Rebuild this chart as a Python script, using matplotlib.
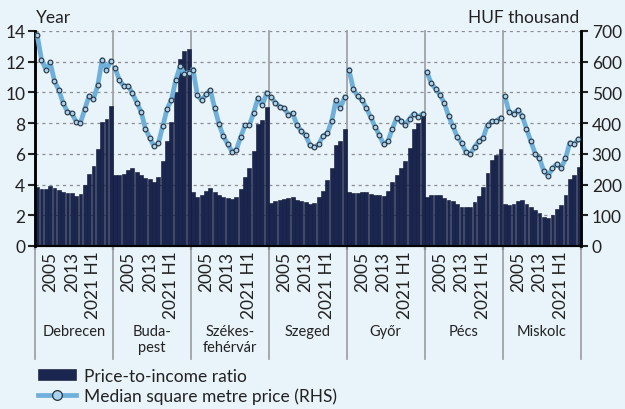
import matplotlib.pyplot as plt
import numpy as np
from matplotlib.lines import Line2D
from matplotlib.patches import Patch

plt.rcParams['font.family'] = ['Lato', 'DejaVu Sans']

cities = ['Debrecen', 'Buda-\npest', 'Székes-\nfehérvár', 'Szeged', 'Győr', 'Pécs', 'Miskolc']
year_labels = ['2005', '2013', '2021 H1']

# price-to-income ratio (LHS)
ratio_debrecen = [3.82, 3.71, 3.71, 3.91, 3.80, 3.62, 3.50, 3.45, 3.45, 3.28, 3.40, 3.95, 4.68, 5.22, 6.30, 8.05, 8.28, 9.10]
ratio_budapest = [4.60, 4.60, 4.70, 4.98, 5.10, 4.85, 4.60, 4.45, 4.35, 4.15, 4.50, 5.55, 6.85, 8.05, 10.00, 12.20, 12.70, 12.85]
ratio_szekes = [3.54, 3.22, 3.33, 3.59, 3.80, 3.50, 3.33, 3.18, 3.11, 3.07, 3.16, 3.71, 4.47, 5.09, 6.18, 7.94, 8.20, 9.02]
ratio_szeged = [2.79, 2.90, 3.01, 3.07, 3.11, 3.16, 3.01, 2.94, 2.86, 2.75, 2.79, 3.16, 3.61, 4.27, 5.09, 6.55, 6.81, 7.62]
ratio_gyor = [3.54, 3.46, 3.46, 3.54, 3.50, 3.37, 3.33, 3.33, 3.26, 3.59, 4.17, 4.62, 5.05, 5.54, 6.38, 7.62, 7.99, 8.63]
ratio_pecs = [3.20, 3.30, 3.32, 3.35, 3.10, 3.00, 2.90, 2.72, 2.57, 2.51, 2.51, 2.86, 3.26, 3.86, 4.72, 5.58, 5.95, 6.29]
ratio_miskolc = [2.75, 2.68, 2.75, 2.96, 3.01, 2.73, 2.51, 2.32, 2.15, 1.89, 1.83, 2.04, 2.38, 2.68, 3.33, 4.36, 4.62, 5.15]

# median square metre price, HUF thousand (RHS)
price_debrecen = [687, 607, 574, 598, 537, 508, 465, 437, 432, 405, 401, 446, 489, 479, 523, 607, 574, 601]
price_budapest = [580, 539, 521, 521, 497, 467, 437, 382, 352, 324, 335, 390, 446, 476, 540, 585, 560, 564]
price_szekes = [574, 491, 474, 494, 508, 448, 397, 357, 332, 307, 313, 355, 393, 393, 434, 482, 459, 498]
price_szeged = [484, 467, 453, 449, 428, 432, 394, 374, 360, 329, 321, 331, 358, 367, 406, 474, 450, 484]
price_gyor = [574, 512, 488, 476, 450, 420, 389, 361, 331, 341, 381, 416, 408, 395, 414, 431, 420, 430]
price_pecs = [566, 530, 512, 493, 466, 424, 390, 356, 336, 306, 299, 322, 341, 353, 394, 406, 406, 417]
price_miskolc = [487, 435, 431, 443, 423, 382, 341, 301, 285, 244, 229, 253, 267, 253, 285, 336, 332, 347]

ratios = [ratio_debrecen, ratio_budapest, ratio_szekes, ratio_szeged, ratio_gyor, ratio_pecs, ratio_miskolc]
prices = [price_debrecen, price_budapest, price_szekes, price_szeged, price_gyor, price_pecs, price_miskolc]

bg = '#E9F3FA'
bar_col = '#1B2650'
line_col = '#6EB0DA'
sep_col = '#A0A4A8'
txt = '#222222'

fig = plt.figure(figsize=(6.25, 4.10), dpi=100, facecolor=bg)
ax = fig.add_axes([0.056, 0.3976, 0.873, 0.5244])
ax.set_facecolor(bg)
ax2 = ax.twinx()

n = len(ratio_debrecen)
for k, (r, p) in enumerate(zip(ratios, prices)):
    x = k * n + np.arange(n) + 0.5
    ax.bar(x, r, width=0.9, color=bar_col, edgecolor='#0E1430', linewidth=0.4, zorder=3)
    ax2.plot(x, p, color=line_col, lw=3.4, marker='o', ms=3.4, mfc='#A9D2EC',
             mec='#2A3340', mew=0.8, zorder=4)

total = n * len(cities)
ax.set_xlim(0, total)
ax.set_ylim(0, 14)
ax2.set_ylim(0, 700)
ax.set_yticks(np.arange(0, 15, 2))
ax2.set_yticks(np.arange(0, 701, 100))

ax.yaxis.grid(True, color='#8A8E92', linestyle=(0, (2.5, 3)), linewidth=0.9, zorder=0)
ax.set_axisbelow(True)

for a in (ax, ax2):
    a.spines['top'].set_visible(False)
    a.spines['left'].set_linewidth(1.8)
    a.spines['right'].set_linewidth(1.8)
    a.spines['bottom'].set_linewidth(1.5)
ax.tick_params(axis='y', direction='out', length=5, width=1.5, labelsize=12.5, colors=txt, pad=2)
ax2.tick_params(axis='y', direction='out', length=5, width=1.5, labelsize=12.5, colors=txt, pad=3)

ax.set_xticks(np.arange(0, total + 1, n))
ax.set_xticklabels([])
ax.tick_params(axis='x', direction='out', length=3, width=1.5)

trans = ax.get_xaxis_transform()
for k in range(len(cities) + 1):
    xb = k * n
    top = 1 if 0 < k < len(cities) else 0
    ax.plot([xb, xb], [-0.526, top], transform=trans, color=sep_col, lw=1.3, clip_on=False, zorder=2)

for k, city in enumerate(cities):
    for off, lab in zip([3.6, 8.5, 13.4], year_labels):
        ax.text(k * n + off, -0.022, lab, transform=trans, rotation=90, ha='center', va='top',
                fontsize=12.5, color=txt)
    ax.text(k * n + n / 2, -0.365, city, transform=trans, ha='center', va='top',
            fontsize=10.5, color=txt, linespacing=1.1)

fig.text(0.058, 0.957, 'Year', fontsize=12.5, va='center', ha='left', color=txt)
fig.text(0.926, 0.957, 'HUF thousand', fontsize=12.5, va='center', ha='right', color=txt)

handles = [Patch(facecolor=bar_col, edgecolor='#0E1430', linewidth=0.4),
           Line2D([], [], color=line_col, lw=3.4, marker='o', ms=7, mfc='#A9D2EC', mec='#2A3340', mew=0.9)]
fig.legend(handles, ['Price-to-income ratio', 'Median square metre price (RHS)'],
           loc='lower left', bbox_to_anchor=(0.036, -0.025), frameon=False, fontsize=12.5,
           handlelength=2.2, handleheight=0.6, handletextpad=0.45, labelspacing=0.2,
           labelcolor=txt)

fig.savefig('out.png', dpi=100, facecolor=bg)
